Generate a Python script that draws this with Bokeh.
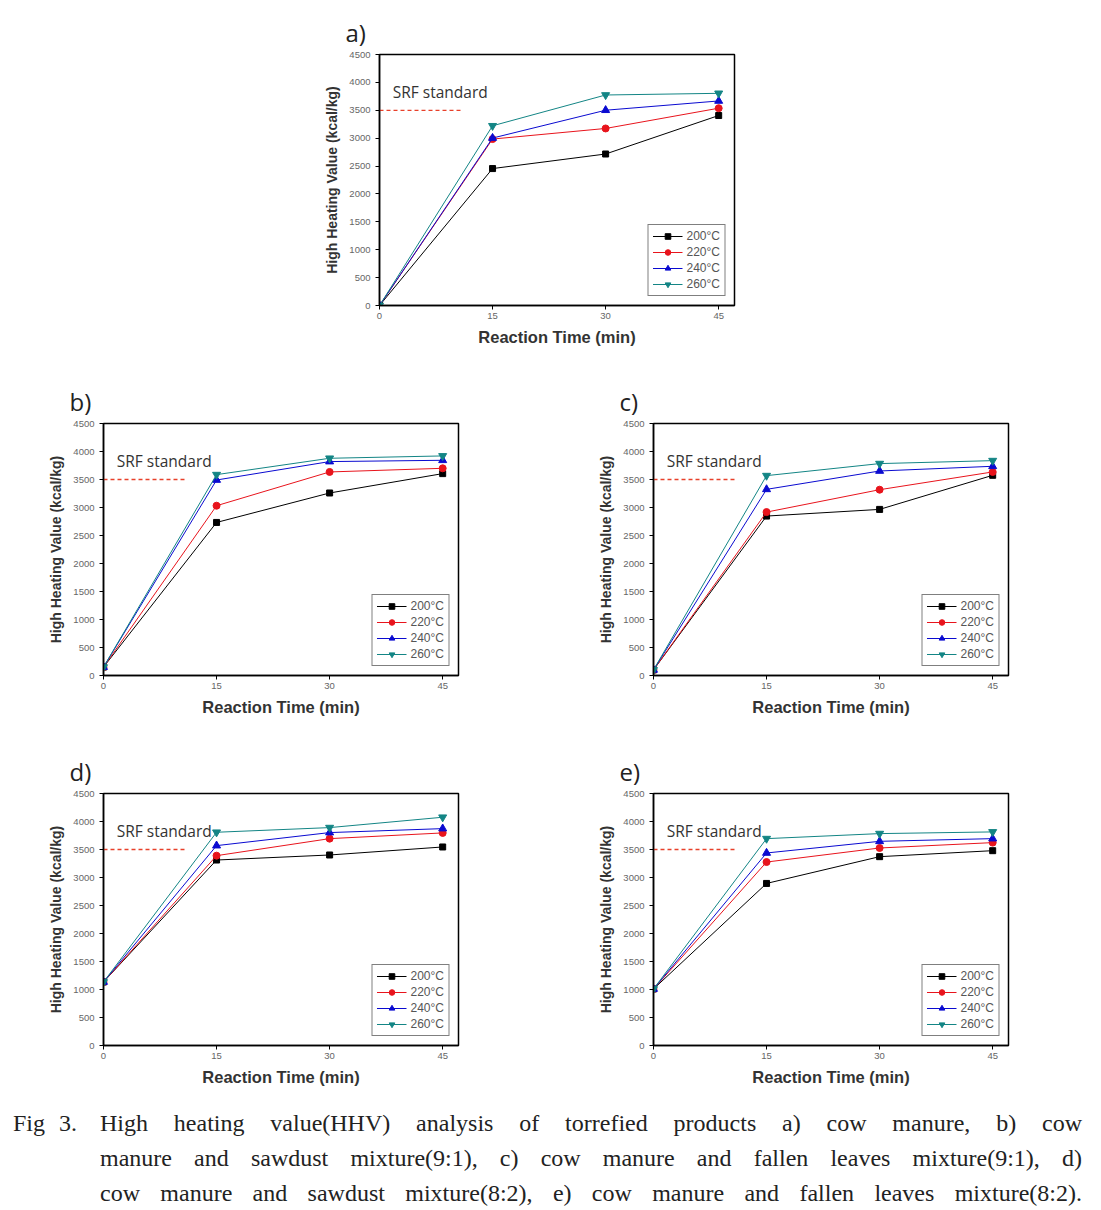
from bokeh.plotting import figure
from bokeh.models import Range1d, FixedTicker, Label, Spacer, Div, Legend, Title
from bokeh.layouts import column, row
from bokeh.embed import file_html
from bokeh.resources import INLINE

# ---------------- data ----------------
times = [0, 15, 30, 45]
temps = ["200°C", "220°C", "240°C", "260°C"]

a_200 = [0, 2455, 2716, 3406]
a_220 = [0, 2984, 3174, 3537]
a_240 = [0, 3002, 3501, 3667]
a_260 = [0, 3222, 3774, 3804]

b_200 = [150, 2733, 3259, 3605]
b_220 = [150, 3032, 3635, 3700]
b_240 = [150, 3491, 3820, 3843]
b_260 = [150, 3587, 3879, 3921]

c_200 = [100, 2847, 2966, 3575]
c_220 = [100, 2918, 3318, 3635]
c_240 = [100, 3324, 3652, 3736]
c_260 = [100, 3569, 3784, 3837]

d_200 = [1134, 3312, 3402, 3545]
d_220 = [1134, 3390, 3694, 3796]
d_240 = [1134, 3569, 3802, 3873]
d_260 = [1134, 3808, 3891, 4076]

e_200 = [1009, 2894, 3372, 3479]
e_220 = [1009, 3276, 3527, 3623]
e_240 = [1009, 3438, 3646, 3694]
e_260 = [1009, 3694, 3784, 3814]

srf_value = 3500
srf_x = [0, 11]
srf_label = "SRF standard"

y_ticks = [0, 500, 1000, 1500, 2000, 2500, 3000, 3500, 4000, 4500]
x_ticks = [0, 15, 30, 45]

panels = [
    ("a)", [a_200, a_220, a_240, a_260]),
    ("b)", [b_200, b_220, b_240, b_260]),
    ("c)", [c_200, c_220, c_240, c_260]),
    ("d)", [d_200, d_220, d_240, d_260]),
    ("e)", [e_200, e_220, e_240, e_260]),
]

caption_head = "Fig 3."
caption_lines = [
    "High heating value(HHV) analysis of torrefied products a) cow manure, b) cow",
    "manure and sawdust mixture(9:1), c) cow manure and fallen leaves mixture(9:1), d)",
    "cow manure and sawdust mixture(8:2), e) cow manure and fallen leaves mixture(8:2).",
]

# ---------------- style ----------------
colors = ["#000000", "#e8141c", "#0a0ad0", "#138585"]
markers = ["square", "circle", "triangle", "inverted_triangle"]
msizes = [6, 7, 8, 8]
AX_FONT = "Liberation Sans"


def make_panel(label, series, top, bottom):
    p = figure(width=550, height=top + 252 + bottom,
               min_border_left=95, min_border_right=100,
               min_border_top=top, min_border_bottom=bottom,
               x_range=Range1d(0, 47.1), y_range=Range1d(0, 4500),
               output_backend="svg", toolbar_location=None,
               background_fill_color="white", border_fill_color="white")
    p.grid.visible = False
    p.outline_line_color = "black"
    p.outline_line_width = 1.5
    p.outline_line_alpha = 1

    for ax in (p.xaxis[0], p.yaxis[0]):
        ax.axis_line_color = "black"
        ax.axis_line_width = 1.5
        ax.major_tick_line_color = "black"
        ax.major_tick_line_width = 1
        ax.major_tick_out = 4
        ax.major_tick_in = 0
        ax.minor_tick_line_color = None
        ax.major_label_text_font = AX_FONT
        ax.major_label_text_font_size = "9.5px"
        ax.major_label_text_color = "#666666"
        ax.axis_label_text_font = AX_FONT
        ax.axis_label_text_font_style = "bold"
        ax.axis_label_text_color = "#333333"

    p.yaxis[0].ticker = FixedTicker(ticks=y_ticks)
    p.xaxis[0].ticker = FixedTicker(ticks=x_ticks)
    p.yaxis[0].axis_label = "High Heating Value (kcal/kg)"
    p.yaxis[0].axis_label_text_font_size = "14px"
    p.yaxis[0].axis_label_standoff = 6
    p.yaxis[0].major_label_standoff = 5
    p.xaxis[0].axis_label = "Reaction Time (min)"
    p.xaxis[0].axis_label_text_font_size = "16.5px"
    p.xaxis[0].axis_label_standoff = 6
    p.xaxis[0].major_label_standoff = 3

    # SRF standard
    p.line(srf_x, [srf_value, srf_value], line_color="#e8402a",
           line_width=1.3, line_dash="4 3")
    p.add_layout(Label(x=1.75, y=3830, text=srf_label,
                       text_font="Open Sans", text_font_size="15.5px",
                       text_color="#333333", text_baseline="middle"))

    items = []
    for vals, t, c, m, s in zip(series, temps, colors, markers, msizes):
        r1 = p.line(times, vals, line_color=c, line_width=1)
        r2 = p.scatter(times, vals, marker=m, size=s, fill_color=c,
                       line_color=c)
        items.append((t, [r1, r2]))

    leg = Legend(items=items, location="bottom_right")
    leg.border_line_color = "black"
    leg.border_line_width = 1.5
    leg.label_text_font = AX_FONT
    leg.label_text_font_size = "12px"
    leg.label_text_color = "#555555"
    leg.glyph_width = 30
    leg.glyph_height = 14
    leg.label_height = 14
    leg.spacing = 2
    leg.padding = 4
    leg.margin = 9
    leg.label_standoff = 4
    leg.background_fill_color = "white"
    p.add_layout(leg, "center")

    # panel letter as title
    p.title = Title(text=label, align="left", offset=-34,
                    text_font="Open Sans", text_font_size="24px",
                    text_font_style="normal", text_color="#222222",
                    standoff=11)
    return p


fa = make_panel(panels[0][0], panels[0][1], 45, 65)
fb = make_panel(panels[1][0], panels[1][1], 53, 65)
fc = make_panel(panels[2][0], panels[2][1], 53, 65)
fd = make_panel(panels[3][0], panels[3][1], 53, 60)
fe = make_panel(panels[4][0], panels[4][1], 53, 60)

line_divs = "".join(
    f'<div style="text-align:justify;text-align-last:justify;white-space:nowrap;'
    f'height:35px;line-height:35px;">{ln}</div>'
    for ln in caption_lines
)
caption_html = (
    '<div style="display:flex;margin-top:-4px;font-family:\'Liberation Serif\',serif;'
    'font-size:24px;color:#222;">'
    f'<div style="width:87px;padding-left:0px;line-height:35px;word-spacing:8px;">{caption_head}</div>'
    f'<div style="width:982px;">{line_divs}</div>'
    '</div>'
)
caption = Div(text=caption_html, width=1085, height=105)

layout = column(
    Spacer(width=8, height=8),
    row(Spacer(width=284, height=362), fa),
    row(Spacer(width=8, height=370), fb, fc),
    row(Spacer(width=8, height=365), fd, fe),
    row(Spacer(width=8, height=105), caption),
)

html = file_html(layout, INLINE)
open("out.html", "w").write(html)
